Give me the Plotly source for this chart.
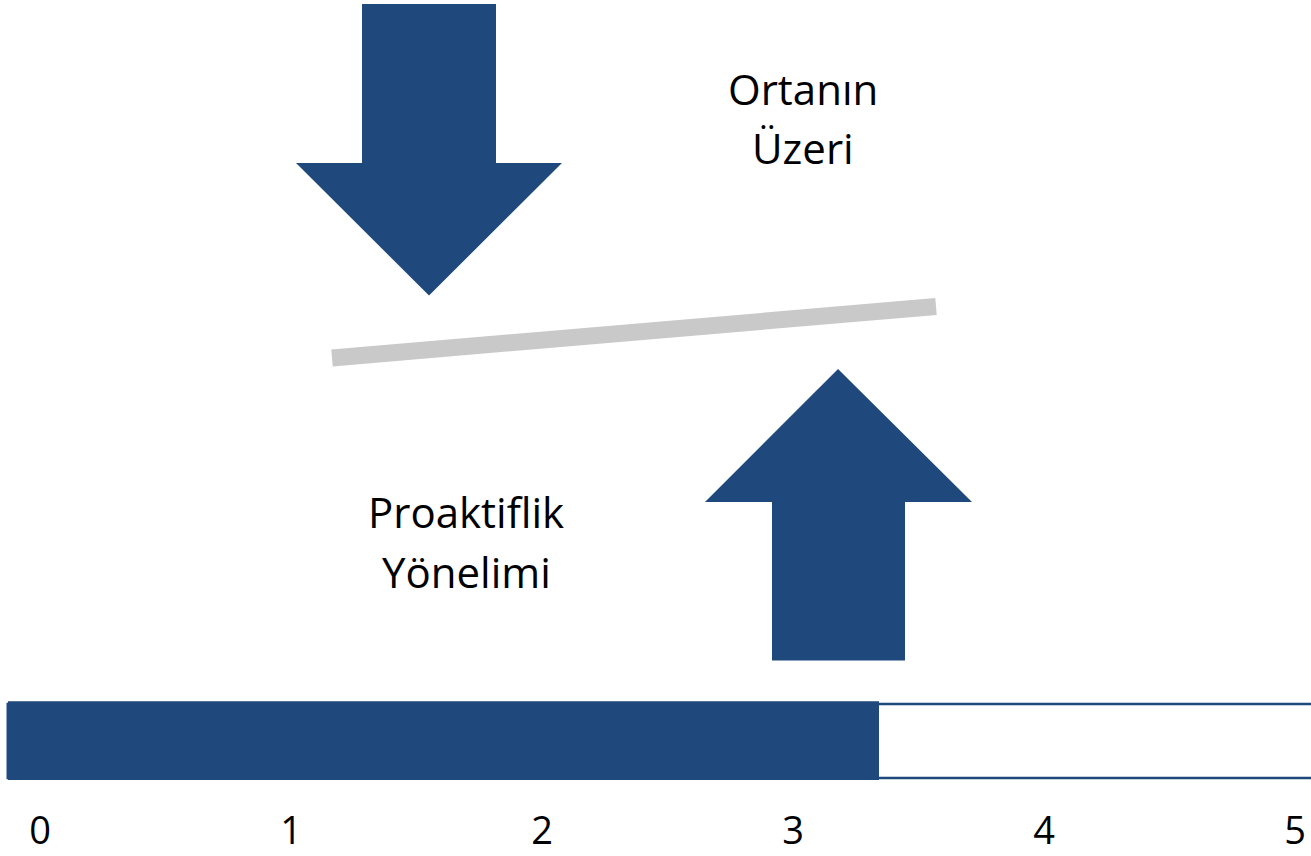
import plotly.graph_objects as go

# data
score_label = ["Proaktiflik"]
score_value = [3.335]
scale_max = [5]
tick_values = [0, 1, 2, 3, 4, 5]
tick_labels = ["0", "1", "2", "3", "4", "5"]

NAVY = "#1F497D"
GREY = "#C9C9C9"
W, H = 1311, 856
FONT = "Open Sans"


def px(x, y):
    """pixel -> paper coords"""
    return x / W, 1 - y / H


def path(points):
    pts = [px(x, y) for x, y in points]
    return "M " + " L ".join(f"{a:.5f},{b:.5f}" for a, b in pts) + " Z"


fig = go.Figure()

# full scale outline
fig.add_trace(go.Bar(
    x=scale_max, y=score_label, orientation="h", width=0.932,
    marker=dict(color="white", line=dict(color=NAVY, width=2.5)),
    hoverinfo="skip", showlegend=False,
))
# filled value
fig.add_trace(go.Bar(
    x=score_value, y=score_label, orientation="h", width=1,
    marker=dict(color=NAVY, line=dict(width=0)),
    hovertemplate="%{x}<extra></extra>", showlegend=False,
))
# tick labels on their own axis
fig.add_trace(go.Scatter(
    x=tick_values, y=[0] * len(tick_values), xaxis="x2", yaxis="y2",
    mode="markers", marker=dict(opacity=0), hoverinfo="skip", showlegend=False,
))

# bar axis: 0 at px 8, 5 at px 1314
unit = (1314 - 8) / 5
# label axis: 0 at px 40, 5 at px 1295
unit2 = (1295 - 40) / 5

shapes = [
    # down arrow
    dict(type="path", xref="paper", yref="paper", fillcolor=NAVY, line=dict(width=0),
         path=path([(362, 4), (496, 4), (496, 163), (562, 163), (429, 295.5),
                    (296, 163), (362, 163)])),
    # up arrow
    dict(type="path", xref="paper", yref="paper", fillcolor=NAVY, line=dict(width=0),
         path=path([(838, 369), (972, 502), (905, 502), (905, 660.5), (772, 660.5),
                    (772, 502), (705, 502)])),
]
x0, y0 = px(332, 358)
x1, y1 = px(936, 306.5)
shapes.append(dict(type="line", xref="paper", yref="paper", x0=x0, y0=y0, x1=x1, y1=y1,
                   line=dict(color=GREY, width=17)))

annotations = []
for text, cx, cy in [("Ortanın", 803, 88), ("Üzeri", 803, 148),
                     ("Proaktiflik", 466, 511), ("Yönelimi", 466, 571)]:
    ax, ay = px(cx, cy)
    annotations.append(dict(text=text, x=ax, y=ay, xref="paper", yref="paper",
                            xanchor="center", yanchor="middle", showarrow=False,
                            font=dict(family=FONT, size=42, color="black")))

fig.update_layout(
    width=W, height=H,
    margin=dict(l=0, r=0, t=0, b=0, autoexpand=False),
    paper_bgcolor="white", plot_bgcolor="white",
    barmode="overlay",
    bargap=0,
    xaxis=dict(range=[-8 / unit, 5 + (W - 1314) / unit], visible=False, domain=[0, 1],
               automargin=False),
    yaxis=dict(domain=[1 - 780.7 / H, 1 - 701.3 / H], range=[-0.5, 0.5], visible=False,
               automargin=False),
    xaxis2=dict(range=[-40 / unit2, 5 + (W - 1295) / unit2], overlaying="x",
                anchor="y2", tickvals=tick_values, ticktext=tick_labels,
                showgrid=False, zeroline=False, showline=False, ticks="",
                automargin=False,
                tickfont=dict(family=FONT, size=38, color="black")),
    yaxis2=dict(domain=[1 - 805 / H, 1 - 795 / H], range=[-1, 1], visible=False,
                automargin=False),
    shapes=shapes,
    annotations=annotations,
    font=dict(family=FONT),
)

fig.write_html(
    "out.html", config={"displayModeBar": False},
    post_script="document.body.style.margin='0';",
)
